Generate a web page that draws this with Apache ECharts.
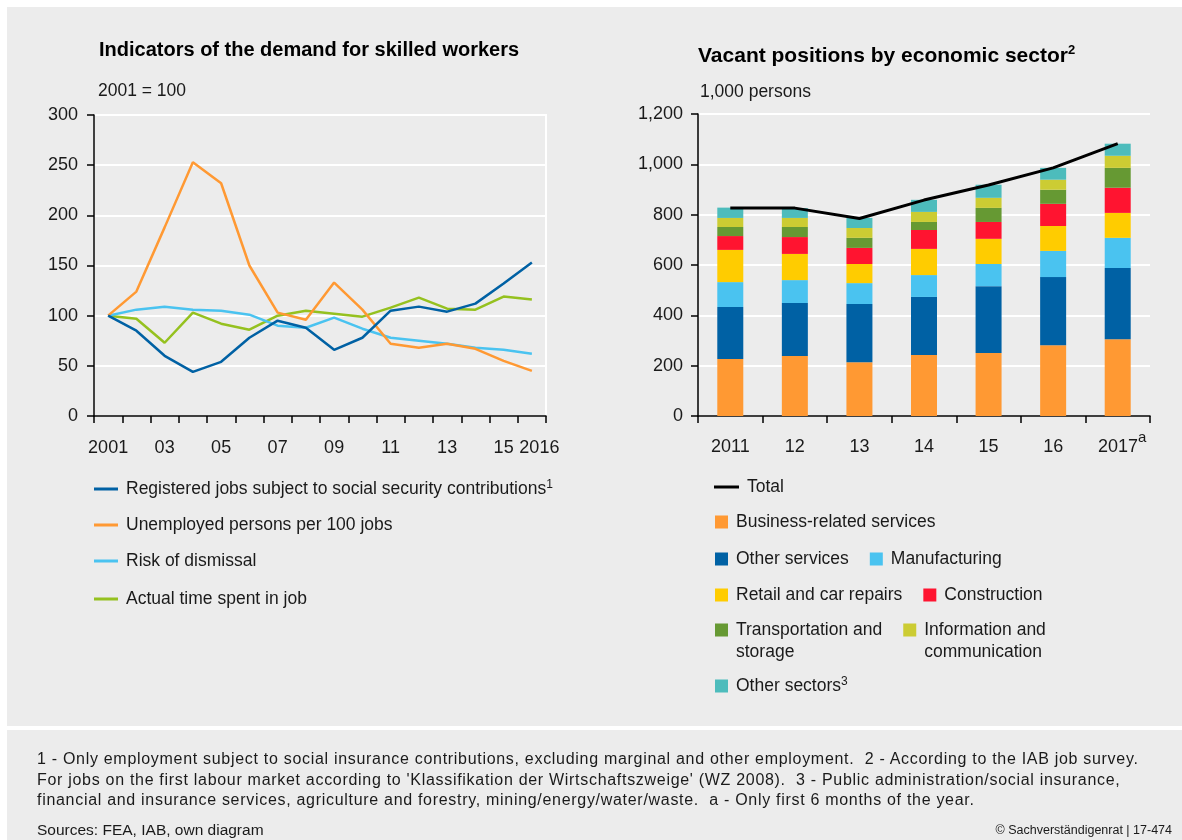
<!DOCTYPE html>
<html>
<head>
<meta charset="utf-8">
<title>Demand for skilled workers and vacant positions</title>
<script src="https://cdn.jsdelivr.net/npm/echarts@6/dist/echarts.min.js"></script>
<style>
  html, body { margin: 0; padding: 0; background: #fff; }
  body { width: 1182px; height: 840px; position: relative; overflow: hidden;
         font-family: "Liberation Sans", Arial, sans-serif; color: #1a1a1a; }
  .panel { position: absolute; background: #ececec; }
  #panelTop { left: 7px; top: 7px; width: 1175px; height: 719px; }
  #panelBottom { left: 7px; top: 730px; width: 1175px; height: 110px; }
  #chart { position: absolute; left: 0; top: 0; width: 1182px; height: 840px; }
  .notes { position: absolute; left: 37px; top: 749px; font-size: 16px; letter-spacing: 0.7px;
           line-height: 20.5px; white-space: pre; }
  .sources { position: absolute; left: 37px; top: 820px; font-size: 15.5px; line-height: 20px; }
  .copy { position: absolute; right: 10px; top: 822px; font-size: 12.5px; line-height: 16px; }
</style>
</head>
<body>
<div class="panel" id="panelTop"></div>
<div class="panel" id="panelBottom"></div>
<div id="chart"></div>
<div class="notes">1 - Only employment subject to social insurance contributions, excluding marginal and other employment.  2 - According to the IAB job survey.
For jobs on the first labour market according to 'Klassifikation der Wirtschaftszweige' (WZ 2008).  3 - Public administration/social insurance,
financial and insurance services, agriculture and forestry, mining/energy/water/waste.  a - Only first 6 months of the year.</div>
<div class="sources">Sources: FEA, IAB, own diagram</div>
<div class="copy">© Sachverständigenrat | 17-474</div>

<script>
// ---- Indicators of the demand for skilled workers (2001 = 100) ----
const yearLabels = ['2001', '02', '03', '04', '05', '06', '07', '08', '09', '10', '11', '12', '13', '14', '15', '2016'];
const registeredJobs   = [100, 85, 60, 44, 54, 78, 95, 88, 66, 78, 105, 109, 104, 112, 132, 153];
const unemployedPer100 = [100, 124, 188, 253, 232, 150, 103, 96, 133, 106, 72, 68, 72, 67, 55, 45];
const riskOfDismissal  = [100, 106, 109, 106, 105, 101, 90, 88, 98, 87, 78, 75, 72, 68, 66, 62];
const actualTimeInJob  = [100, 97, 73, 103, 92, 86, 100, 105, 102, 99, 108, 118, 107, 106, 119, 116];

// ---- Vacant positions by economic sector (1,000 persons) ----
const vacancyYears = ['2011', '12', '13', '14', '15', '16', '2017'];
const provisionalYear = '2017';
const businessServices = [226, 238, 214, 242, 250, 281, 305];
const otherServices    = [207, 211, 231, 231, 266, 271, 283];
const manufacturing    = [99, 91, 83, 87, 88, 104, 120];
const retailCarRepairs = [128, 104, 76, 104, 100, 99, 99];
const construction     = [55, 67, 64, 75, 67, 88, 100];
const transportStorage = [36, 40, 40, 32, 56, 56, 79];
const infoCommunication = [36, 36, 39, 40, 40, 40, 48];
const otherSectors     = [41, 39, 40, 48, 52, 47, 48];
const totalVacancies   = [826, 826, 785, 858, 918, 986, 1082];

const FONT = '"Liberation Sans", Arial, sans-serif';
const TEXT = '#1a1a1a';
const LEGEND_SIZE = 17.5;
const C = {
  darkBlue: '#0061a4', orange: '#ff9933', lightBlue: '#4ac3f0', lime: '#95c11f',
  yellow: '#ffcc00', red: '#ff1430', green: '#669933', olive: '#cccc33', teal: '#4dbcbc'
};

const N = {
  reg: 'Registered jobs subject to social security contributions',
  unemp: 'Unemployed persons per 100 jobs',
  risk: 'Risk of dismissal',
  time: 'Actual time spent in job',
  total: 'Total',
  bus: 'Business-related services',
  oth: 'Other services',
  man: 'Manufacturing',
  ret: 'Retail and car repairs',
  con: 'Construction',
  tra: 'Transportation and storage',
  inf: 'Information and communication',
  sec: 'Other sectors'
};

// legend text as displayed (superscripts and line breaks);
// the two-line entries get a blank first line so their first line sits level with the swatch
const legendText = {};
legendText[N.reg] = N.reg + '{sup|1}';
legendText[N.tra] = ' \nTransportation and\nstorage';
legendText[N.inf] = ' \nInformation and\ncommunication';
legendText[N.sec] = N.sec + '{sup|3}';

const supRich = { sup: { fontSize: 12, lineHeight: 14, verticalAlign: 'top', fontFamily: FONT, color: TEXT } };

function legendRow(names, left, top, extra) {
  return Object.assign({
    show: true, orient: 'horizontal', left: left, top: top, padding: 0,
    itemGap: 21, itemWidth: 13, itemHeight: 13, icon: 'rect',
    selectedMode: false, data: names,
    formatter: function (n) { return legendText[n] || n; },
    textStyle: { fontFamily: FONT, fontSize: LEGEND_SIZE, color: TEXT, lineHeight: 20, padding: [0, 0, 0, 3], rich: supRich }
  }, extra || {});
}

const lineLegend = { itemWidth: 24, itemHeight: 3 };
const axisLineStyle = { color: '#000', width: 1.5 };
const lastYear = yearLabels.length - 1;

const option = {
  animation: false,
  backgroundColor: 'transparent',
  textStyle: { fontFamily: FONT },
  title: [
    { text: 'Indicators of the demand for skilled workers', left: 99, top: 38, padding: 0,
      textStyle: { fontFamily: FONT, fontSize: 20, fontWeight: 'bold', color: '#000', lineHeight: 24 } },
    { text: '2001 = 100', left: 98, top: 81, padding: 0,
      textStyle: { fontFamily: FONT, fontSize: 17.5, fontWeight: 'normal', color: TEXT, lineHeight: 20 } },
    { text: '{t|Vacant positions by economic sector}{s|2}', left: 698, top: 44, padding: 0,
      textStyle: { fontFamily: FONT, fontSize: 21, fontWeight: 'bold', color: '#000', lineHeight: 24,
        rich: {
          t: { fontFamily: FONT, fontSize: 21, fontWeight: 'bold', color: '#000', lineHeight: 24 },
          s: { fontFamily: FONT, fontSize: 13, fontWeight: 'bold', color: '#000', lineHeight: 17, verticalAlign: 'top' }
        } } },
    { text: '1,000 persons', left: 700, top: 82, padding: 0,
      textStyle: { fontFamily: FONT, fontSize: 17.5, fontWeight: 'normal', color: TEXT, lineHeight: 20 } }
  ],
  legend: [
    legendRow([N.reg], 94, 479, lineLegend),
    legendRow([N.unemp], 94, 515, lineLegend),
    legendRow([N.risk], 94, 551, lineLegend),
    legendRow([N.time], 94, 589, lineLegend),
    legendRow([N.total], 714, 477, { itemWidth: 25, itemHeight: 3 }),
    legendRow([N.bus], 715, 512),
    legendRow([N.oth, N.man], 715, 549),
    legendRow([N.ret, N.con], 715, 585),
    legendRow([N.tra, N.inf], 715, 597, {
      textStyle: { fontFamily: FONT, fontSize: LEGEND_SIZE, color: TEXT, lineHeight: 22, padding: [0, 0, 0, 3] }
    }),
    legendRow([N.sec], 715, 676)
  ],
  grid: [
    { left: 94, top: 115, width: 452, height: 301, show: true, borderColor: '#ffffff', borderWidth: 2,
      backgroundColor: 'transparent', containLabel: false },
    { left: 698, top: 114, width: 452, height: 302, containLabel: false }
  ],
  xAxis: [
    {
      // years 2001 … 15, every second year labelled
      type: 'category', gridIndex: 0, position: 'bottom', data: yearLabels, boundaryGap: true,
      axisLine: { lineStyle: axisLineStyle },
      axisTick: { show: true, interval: 0, length: 7, lineStyle: axisLineStyle },
      axisLabel: {
        interval: function (i) { return i % 2 === 0 && i < lastYear; },
        fontFamily: FONT, fontSize: 18, color: TEXT, margin: 22, lineHeight: 20, hideOverlap: false
      },
      splitLine: { show: false }
    },
    {
      type: 'category', gridIndex: 1, boundaryGap: true,
      data: vacancyYears.map(function (y) {
        return y === provisionalYear ? { value: y, textStyle: { padding: [0, 0, 0, 9] } } : y;
      }),
      axisLine: { lineStyle: axisLineStyle },
      axisTick: { show: true, interval: 0, length: 7, lineStyle: axisLineStyle },
      axisLabel: {
        interval: 0, fontFamily: FONT, fontSize: 18, color: TEXT, margin: 14, lineHeight: 34,
        formatter: function (v) { return v === provisionalYear ? v + '{sup|a}' : v; },
        rich: { sup: { fontFamily: FONT, fontSize: 15, lineHeight: 14, verticalAlign: 'top', color: TEXT } }
      },
      splitLine: { show: false }
    },
    {
      // the final year's label, set a little to the right of "15"
      type: 'category', gridIndex: 0, position: 'bottom', offset: 0, boundaryGap: true,
      data: yearLabels.map(function (y, i) {
        return i === lastYear ? { value: y, textStyle: { padding: [0, 0, 0, 15] } } : y;
      }),
      axisLine: { show: false }, axisTick: { show: false },
      axisLabel: {
        interval: function (i) { return i === lastYear; },
        fontFamily: FONT, fontSize: 18, color: TEXT, margin: 22, lineHeight: 20, hideOverlap: false
      },
      splitLine: { show: false }
    }
  ],
  yAxis: [
    {
      type: 'value', gridIndex: 0, min: 0, max: 300, interval: 50,
      axisLine: { show: true, lineStyle: axisLineStyle },
      axisTick: { show: true, length: 7, lineStyle: axisLineStyle },
      axisLabel: { fontFamily: FONT, fontSize: 18, color: TEXT, margin: 16 },
      splitLine: { show: true, lineStyle: { color: '#ffffff', width: 2 } }
    },
    {
      type: 'value', gridIndex: 1, min: 0, max: 1200, interval: 200,
      axisLine: { show: true, lineStyle: axisLineStyle },
      axisTick: { show: true, length: 7, lineStyle: axisLineStyle },
      axisLabel: { fontFamily: FONT, fontSize: 18, color: TEXT, margin: 15,
        formatter: function (v) { return v.toLocaleString('en-US'); } },
      splitLine: { show: true, lineStyle: { color: '#ffffff', width: 2 } }
    }
  ],
  series: [
    { name: N.time, type: 'line', xAxisIndex: 0, yAxisIndex: 0, data: actualTimeInJob,
      symbol: 'none', color: C.lime, lineStyle: { width: 2.5, color: C.lime } },
    { name: N.risk, type: 'line', xAxisIndex: 0, yAxisIndex: 0, data: riskOfDismissal,
      symbol: 'none', color: C.lightBlue, lineStyle: { width: 2.5, color: C.lightBlue } },
    { name: N.unemp, type: 'line', xAxisIndex: 0, yAxisIndex: 0, data: unemployedPer100,
      symbol: 'none', color: C.orange, lineStyle: { width: 2.5, color: C.orange } },
    { name: N.reg, type: 'line', xAxisIndex: 0, yAxisIndex: 0, data: registeredJobs,
      symbol: 'none', color: C.darkBlue, lineStyle: { width: 2.5, color: C.darkBlue } },

    { name: N.bus, type: 'bar', stack: 'sectors', xAxisIndex: 1, yAxisIndex: 1, barWidth: 26, data: businessServices, color: C.orange },
    { name: N.oth, type: 'bar', stack: 'sectors', xAxisIndex: 1, yAxisIndex: 1, barWidth: 26, data: otherServices, color: C.darkBlue },
    { name: N.man, type: 'bar', stack: 'sectors', xAxisIndex: 1, yAxisIndex: 1, barWidth: 26, data: manufacturing, color: C.lightBlue },
    { name: N.ret, type: 'bar', stack: 'sectors', xAxisIndex: 1, yAxisIndex: 1, barWidth: 26, data: retailCarRepairs, color: C.yellow },
    { name: N.con, type: 'bar', stack: 'sectors', xAxisIndex: 1, yAxisIndex: 1, barWidth: 26, data: construction, color: C.red },
    { name: N.tra, type: 'bar', stack: 'sectors', xAxisIndex: 1, yAxisIndex: 1, barWidth: 26, data: transportStorage, color: C.green },
    { name: N.inf, type: 'bar', stack: 'sectors', xAxisIndex: 1, yAxisIndex: 1, barWidth: 26, data: infoCommunication, color: C.olive },
    { name: N.sec, type: 'bar', stack: 'sectors', xAxisIndex: 1, yAxisIndex: 1, barWidth: 26, data: otherSectors, color: C.teal },
    { name: N.total, type: 'line', xAxisIndex: 1, yAxisIndex: 1, data: totalVacancies, z: 5,
      symbol: 'none', color: '#000', lineStyle: { width: 3, color: '#000' } }
  ]
};

const chart = echarts.init(document.getElementById('chart'), null, { renderer: 'canvas' });
chart.setOption(option);
</script>
</body>
</html>
